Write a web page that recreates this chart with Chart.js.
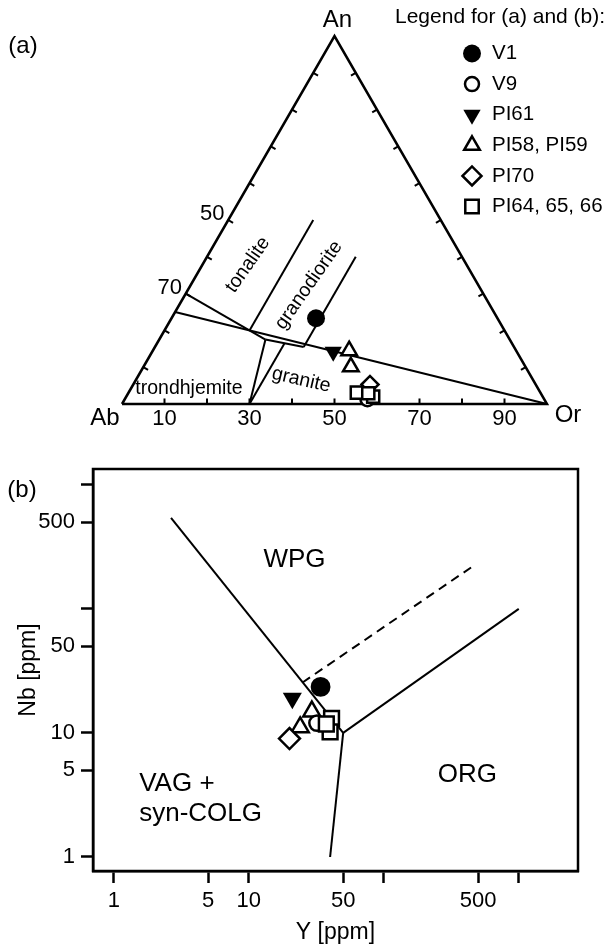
<!DOCTYPE html>
<html><head><meta charset="utf-8">
<script src="https://cdn.jsdelivr.net/npm/chart.js@4/dist/chart.umd.min.js"></script>
<style>
html,body{margin:0;padding:0;background:#fff;}
#wrap{position:relative;width:611px;height:946px;background:#fff;}
canvas{position:absolute;left:0;display:block;}
#ca{top:0}
#cb{top:430px}
</style></head><body>
<div id="wrap"><canvas id="ca" width="611" height="430"></canvas><canvas id="cb" width="611" height="516"></canvas></div>
<script>
const FONT = '"Liberation Sans", Arial, Helvetica, sans-serif';

// ===================== DATA =====================
// (a) ternary An-Ab-Or; compositions are [Ab, An, Or] in %
const apexNames = ['Ab', 'An', 'Or'];
const ternTickValues = [10, 20, 30, 40, 50, 60, 70, 80, 90];
const bottomTickLabels = [10, 30, 50, 70, 90];   // Or %
const leftTickLabels = [50, 70];                 // Ab %
const fieldNames = ['tonalite', 'granodiorite', 'granite', 'trondhjemite'];

const tern_V1      = [[42.7, 23.3, 34.0]];
const tern_V9      = [[41.6, 1.3, 57.1]];
const tern_PI61    = [[43.2, 14.2, 42.6]];
const tern_PI58_59 = [[39.3, 14.5, 46.2], [41.1, 10.1, 48.8]];
const tern_PI70    = [[39.0, 5.3, 55.7]];
const tern_PI64_66 = [[43.2, 3.1, 53.7], [39.9, 2.0, 58.1], [40.6, 2.9, 56.5]];

const ternBoundaries = [
  [[75, 25, 0], [0, 0, 100]],
  [[70, 30, 0], [57.5, 17.5, 25]],
  [[57.5, 17.5, 25], [49.5, 15.5, 35]],
  [[60, 20, 20], [30, 50, 20]],
  [[49.5, 15.5, 35], [25, 40, 35]],
  [[57.5, 17.5, 25], [70, 0, 30]],
  [[70, 0, 30], [53.5, 16.5, 30]]
];

// (b) Nb vs Y (ppm)
const sampleNames = ['V1', 'V9', 'PI61', 'PI58, PI59', 'PI70', 'PI64, 65, 66'];
const Y_V1 = [34.0],  Nb_V1 = [23.5];
const Y_V9 = [32.0],  Nb_V9 = [12.0];
const Y_PI61 = [21.0], Nb_PI61 = [19.0];
const Y_PI58_59 = [29.3, 24.0], Nb_PI58_59 = [14.9, 11.1];
const Y_PI70 = [20.0], Nb_PI70 = [9.0];
const Y_PI64_66 = [41.0, 40.0, 37.5], Nb_PI64_66 = [13.1, 10.2, 11.8];

const Y_lineWPG = [2.65, 50],  Nb_lineWPG = [540, 10];
const Y_lineORG = [50, 1000],  Nb_lineORG = [10, 100];
const Y_lineVAG = [50, 40],    Nb_lineVAG = [10, 1];
const Y_lineDash = [25, 470],  Nb_lineDash = [25.5, 225];

const xTickValues = [1, 5, 10, 50, 100, 500, 1000];
const xTickLabels = [1, 5, 10, 50, 500];
const yTickValues = [1, 5, 10, 50, 100, 500, 1000];
const yTickLabels = [1, 5, 10, 50, 500];

// ===================== STYLES =====================
const markerStyles = {
  'V1':           {pointStyle: 'circle',   radius: 9,   rotation: 0,   fill: '#000', border: 0},
  'V9':           {pointStyle: 'circle',   radius: 7,   rotation: 0,   fill: '#fff', border: 2.5},
  'PI61':         {pointStyle: 'triangle', radius: 10,  rotation: 180, fill: '#000', border: 0},
  'PI58, PI59':   {pointStyle: 'triangle', radius: 9,   rotation: 0,   fill: '#fff', border: 2.5},
  'PI70':         {pointStyle: 'rectRot',  radius: 9.5, rotation: 0,   fill: '#fff', border: 2.5},
  'PI64, 65, 66': {pointStyle: 'rect',     radius: 9.5, rotation: 0,   fill: '#fff', border: 2.5}
};

Chart.defaults.font.family = FONT;
Chart.defaults.color = '#000';
Chart.defaults.animation = false;

function tern(c) {
  const s = c[0] + c[1] + c[2];
  const an = c[1] / s * 100, or = c[2] / s * 100;
  return {x: or + an / 2, y: an * Math.sqrt(3) / 2};
}
function pointDs(name, data, k) {
  const st = markerStyles[name];
  const r = st.radius * (k || 1);
  return {label: name, data, showLine: false, clip: false,
    pointStyle: st.pointStyle, pointRadius: r, pointHoverRadius: r,
    pointRotation: st.rotation, pointBackgroundColor: st.fill,
    pointBorderColor: '#000', pointBorderWidth: st.border};
}
function lineDs(data, width, dash) {
  return {data, showLine: true, clip: false, pointRadius: 0, borderColor: '#000',
    borderWidth: width, borderDash: dash || [], fill: false, tension: 0, borderCapStyle: 'butt'};
}
function drawMarker(ctx, name, x, y) {
  const st = markerStyles[name];
  ctx.save();
  ctx.fillStyle = st.fill; ctx.strokeStyle = '#000'; ctx.lineWidth = st.border;
  Chart.helpers.drawPoint(ctx, {pointStyle: st.pointStyle, radius: st.radius,
    rotation: st.rotation, borderWidth: st.border}, x, y);
  ctx.restore();
}

// ===================== CHART (a) =====================
const dsA = [];
dsA.push(pointDs('PI64, 65, 66', tern_PI64_66.map(tern), 0.9));
dsA.push(pointDs('V9', tern_V9.map(tern)));
dsA.push(pointDs('PI70', tern_PI70.map(tern), 0.9));
dsA.push(pointDs('PI58, PI59', tern_PI58_59.map(tern)));
dsA.push(pointDs('PI61', tern_PI61.map(tern)));
dsA.push(pointDs('V1', tern_V1.map(tern)));
ternBoundaries.forEach(seg => dsA.push(lineDs(seg.map(tern), 2)));
// triangle outline
dsA.push(lineDs([[100,0,0],[0,100,0],[0,0,100],[100,0,0]].map(tern), 2.5));
// ticks, perpendicular to each edge, pointing inward
const TL = 1.3;
const s3 = Math.sqrt(3) / 2;
ternTickValues.forEach(t => {
  const b = tern([100 - t, 0, t]);
  dsA.push(lineDs([b, {x: b.x, y: b.y + TL}], 2));
  const l = tern([100 - t, t, 0]);
  dsA.push(lineDs([l, {x: l.x + TL * s3, y: l.y - TL * 0.5}], 2));
  const r = tern([0, t, 100 - t]);
  dsA.push(lineDs([r, {x: r.x - TL * s3, y: r.y - TL * 0.5}], 2));
});

const annotA = {
  id: 'annotA',
  afterDatasetsDraw(chart) {
    const {ctx, scales: {x, y}} = chart;
    const P = c => { const q = tern(c); return [x.getPixelForValue(q.x), y.getPixelForValue(q.y)]; };
    ctx.save();
    ctx.fillStyle = '#000';
    ctx.textAlign = 'center'; ctx.textBaseline = 'middle';
    // apex names
    ctx.font = '24px ' + FONT;
    let p = P([100, 0, 0]); ctx.fillText(apexNames[0], p[0] - 17, p[1] + 14);
    p = P([0, 100, 0]);     ctx.fillText(apexNames[1], p[0] + 3, p[1] - 16);
    p = P([0, 0, 100]);     ctx.fillText(apexNames[2], p[0] + 21, p[1] + 11);
    // tick labels
    ctx.font = '22px ' + FONT;
    bottomTickLabels.forEach(v => { const q = P([100 - v, 0, v]); ctx.fillText(String(v), q[0], q[1] + 15); });
    leftTickLabels.forEach(v => { const q = P([v, 100 - v, 0]); ctx.fillText(String(v), q[0] - 16, q[1] - 6); });
    // field names
    ctx.font = '19.5px ' + FONT;
    const lab = (txt, c, rot) => {
      const q = P(c);
      ctx.save(); ctx.translate(q[0], q[1]); ctx.rotate(rot * Math.PI / 180);
      ctx.fillText(txt, 0, 0); ctx.restore();
    };
    lab(fieldNames[0], [51.5, 37.8, 10.7], -55);
    lab(fieldNames[1], [39.9, 32.3, 27.8], -55);
    lab(fieldNames[2], [54.6, 6.5, 38.9], 13);
    lab(fieldNames[3], [82.2, 4.1, 13.7], 0);
    // panel letter
    ctx.font = '24px ' + FONT;
    ctx.fillText('(a)', 23, 46);
    // legend
    ctx.textAlign = 'left';
    ctx.font = '21px ' + FONT;
    ctx.fillText('Legend for (a) and (b):', 395, 17);
    ctx.font = '20.5px ' + FONT;
    sampleNames.forEach((n, i) => {
      const yy = 53.5 + i * 30.6;
      drawMarker(ctx, n, 472, yy);
      ctx.fillStyle = '#000';
      ctx.fillText(n, 492, yy);
    });
    ctx.restore();
  }
};

new Chart(document.getElementById('ca'), {
  type: 'scatter',
  data: {datasets: dsA},
  options: {
    responsive: false, devicePixelRatio: 1, events: [],
    layout: {padding: {left: 122, right: 64, top: 36, bottom: 26}},
    plugins: {legend: {display: false}, tooltip: {enabled: false}},
    scales: {
      x: {type: 'linear', min: 0, max: 100, display: false},
      y: {type: 'linear', min: 0, max: 100 * Math.sqrt(3) / 2, display: false}
    }
  },
  plugins: [annotA]
});

// ===================== CHART (b) =====================
const zip = (xs, ys) => xs.map((v, i) => ({x: v, y: ys[i]}));
const KB = 1.1;
const dsB = [
  pointDs('PI64, 65, 66', zip(Y_PI64_66, Nb_PI64_66), KB),
  pointDs('V9', zip(Y_V9, Nb_V9), KB),
  pointDs('PI70', zip(Y_PI70, Nb_PI70), KB),
  pointDs('PI58, PI59', zip(Y_PI58_59, Nb_PI58_59), KB),
  pointDs('PI61', zip(Y_PI61, Nb_PI61), KB),
  pointDs('V1', zip(Y_V1, Nb_V1), KB),
  lineDs(zip(Y_lineWPG, Nb_lineWPG), 2),
  lineDs(zip(Y_lineORG, Nb_lineORG), 2),
  lineDs(zip(Y_lineVAG, Nb_lineVAG), 2),
  lineDs(zip(Y_lineDash, Nb_lineDash), 2, [9, 6])
];

const annotB = {
  id: 'annotB',
  afterDatasetsDraw(chart) {
    const {ctx, chartArea: ca, scales: {x, y}} = chart;
    ctx.save();
    ctx.strokeStyle = '#000'; ctx.lineWidth = 2.5;
    ctx.strokeRect(ca.left, ca.top, ca.right - ca.left, ca.bottom - ca.top);
    ctx.fillStyle = '#000'; ctx.textBaseline = 'middle';
    ctx.font = '26px ' + FONT; ctx.textAlign = 'center';
    ctx.fillText('WPG', x.getPixelForValue(21.8), y.getPixelForValue(248));
    ctx.fillText('ORG', x.getPixelForValue(416), y.getPixelForValue(4.56));
    ctx.textAlign = 'left';
    ctx.fillText('VAG +', x.getPixelForValue(1.54), y.getPixelForValue(3.88));
    ctx.fillText('syn-COLG', x.getPixelForValue(1.54), y.getPixelForValue(2.22));
    ctx.font = '24px ' + FONT; ctx.textAlign = 'center';
    ctx.fillText('(b)', 22, 60);
    ctx.restore();
  }
};

const tickFont = {size: 22, family: FONT};
new Chart(document.getElementById('cb'), {
  type: 'scatter',
  data: {datasets: dsB},
  options: {
    responsive: false, devicePixelRatio: 1, events: [],
    layout: {padding: {left: 0, right: 33, top: 39, bottom: 0}},
    plugins: {legend: {display: false}, tooltip: {enabled: false}},
    scales: {
      x: {
        type: 'logarithmic', position: 'bottom', min: 0.733, max: 2748,
        afterFit: s => { s.height = 75; },
        afterBuildTicks: s => { s.ticks = xTickValues.map(v => ({value: v})); },
        ticks: {callback: v => xTickLabels.includes(v) ? String(v) : '', font: tickFont,
                color: '#000', padding: 5, autoSkip: false, maxRotation: 0, minRotation: 0},
        grid: {display: true, drawOnChartArea: false, drawTicks: true, tickLength: 12,
               tickWidth: 2.5, tickColor: '#000', color: '#000'},
        border: {display: true, color: '#000', width: 2.5},
        title: {display: true, text: 'Y [ppm]', font: {size: 23, family: FONT}, color: '#000',
                padding: {top: 0, bottom: 0}}
      },
      y: {
        type: 'logarithmic', position: 'left', min: 0.771, max: 1340,
        afterFit: s => { s.width = 93; },
        afterBuildTicks: s => { s.ticks = yTickValues.map(v => ({value: v})); },
        ticks: {callback: v => yTickLabels.includes(v) ? String(v) : '', font: tickFont,
                color: '#000', padding: 6, autoSkip: false},
        grid: {display: true, drawOnChartArea: false, drawTicks: true, tickLength: 12,
               tickWidth: 2.5, tickColor: '#000', color: '#000'},
        border: {display: true, color: '#000', width: 2.5},
        title: {display: true, text: 'Nb [ppm]', font: {size: 23, family: FONT}, color: '#000',
                padding: {top: 15, bottom: 0}}
      }
    }
  },
  plugins: [annotB]
});
</script>
</body></html>
